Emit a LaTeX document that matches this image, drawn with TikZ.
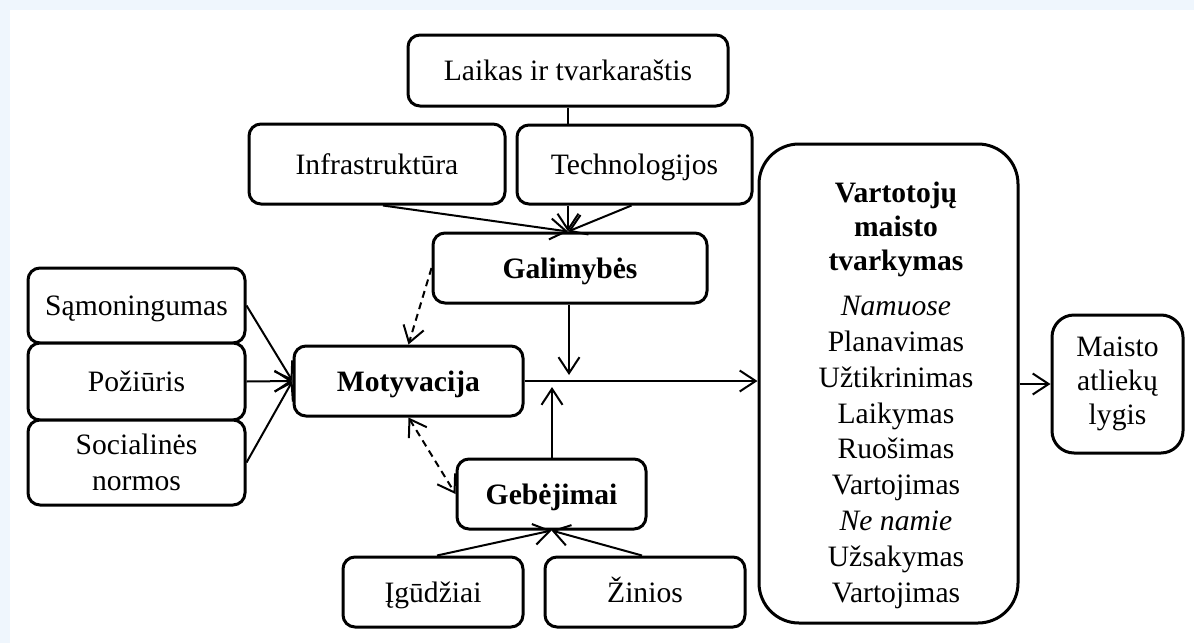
\documentclass[tikz,border=0pt]{standalone}
\usepackage{fontspec}
\setmainfont{Liberation Serif}
\usetikzlibrary{arrows.meta}
\definecolor{bgblue}{RGB}{239,246,253}
\begin{document}
\begin{tikzpicture}[x=1pt,y=-1pt,
  box/.style={draw, line width=3pt, rounded corners=12pt, fill=white, inner sep=0pt, align=center, font=\fontsize{29.6}{35.8}\selectfont},
  one/.style={text height=20pt, text depth=0pt},
  barb/.style={-{Straight Barb[length=16pt,width=21pt]}},
  conn/.style={line width=2pt, barb},
  plainline/.style={line width=2pt},
  dashedarr/.style={line width=2pt, dash pattern=on 7pt off 5pt}
]
\fill[bgblue] (0,0) rectangle (1194,643);
\fill[white] (10,10) rectangle (1194,643);
\useasboundingbox (0,0) rectangle (1194,643);

% nodes
\node[box, one, minimum width=320pt, minimum height=71pt] (laikas) at (568,70.5) {Laikas ir tvarkaraštis};
\node[box, one, minimum width=256pt, minimum height=80pt] (inf) at (377,164) {Infrastruktūra};
\node[box, one, minimum width=235pt, minimum height=79pt] (tech) at (634.5,164.5) {Technologijos};
\node[box, one, minimum width=274pt, minimum height=70pt] (gal) at (570,268) {\textbf{Galimybės}};
\node[box, one, minimum width=229pt, minimum height=70pt] (mot) at (408.5,381) {\textbf{Motyvacija}};
\node[box, one, minimum width=189pt, minimum height=70pt] (geb) at (551.5,494) {\textbf{Gebėjimai}};
\node[box, one, minimum width=180pt, minimum height=70pt] (igud) at (433,592) {Įgūdžiai};
\node[box, one, minimum width=200pt, minimum height=70pt] (zin) at (645,592) {Žinios};
\node[box, one, minimum width=217pt, minimum height=75pt] (samon) at (136.5,305.5) {Sąmoningumas};
\node[box, one, minimum width=217pt, minimum height=77pt] (pozi) at (136.5,381.5) {Požiūris};
\node[box, minimum width=217pt, minimum height=85pt] (soc) at (136.5,462.5) {Socialinės\\normos};
\node[box, rounded corners=40pt, minimum width=259pt, minimum height=479pt] (vart) at (888.5,383.5) {};
\node[inner sep=0pt, anchor=north, align=center, font=\fontsize{29.6}{35.8}\selectfont] (vartxt) at (896,182)
  {\textbf{Vartotojų}\\[-1.8pt]\textbf{maisto}\\[-1.8pt]\textbf{tvarkymas}\\[9.2pt]\textit{Namuose}\\Planavimas\\Užtikrinimas\\Laikymas\\Ruošimas\\Vartojimas\\\textit{Ne namie}\\Užsakymas\\Vartojimas};
\node[box, rounded corners=22pt, minimum width=131pt, minimum height=138pt] (mais) at (1117.5,384) {Maisto\\[-1.8pt]atliekų\\[-1.8pt]lygis};

\coordinate (gtip) at (569,375);
\coordinate (btip) at (552,387);

% connectors
\draw[plainline] (laikas.south) -- (laikas.south |- tech.north);
\draw[conn] (laikas.south |- tech.south) -- (gal.north -| laikas.south);
\draw[conn] ([xshift=6pt]inf.south) -- (gal.north -| laikas.south);
\draw[conn] ([xshift=-3pt]tech.south) -- (gal.north -| laikas.south);

\draw[conn] (samon.east) -- (mot.west);
\draw[conn] (pozi.east) -- (mot.west);
\draw[conn] (soc.east) -- (mot.west);

\draw[dashedarr, barb] (gal.west) -- (mot.north);
\draw[dashedarr, {Straight Barb[length=16pt,width=21pt]}-{Straight Barb[length=16pt,width=21pt]}] (mot.south) -- (geb.west);

\draw[conn] (gal.south -| gtip) -- (gtip);
\draw[conn] (geb.north -| btip) -- (btip);
\draw[conn] (mot.east) -- (mot.east -| vart.west);

\draw[conn] ([xshift=4pt]igud.north) -- (geb.south);
\draw[conn] ([xshift=-3pt]zin.north) -- (geb.south);

\draw[conn] (vart.east |- mais.west) -- (mais.west);
\end{tikzpicture}
\end{document}
